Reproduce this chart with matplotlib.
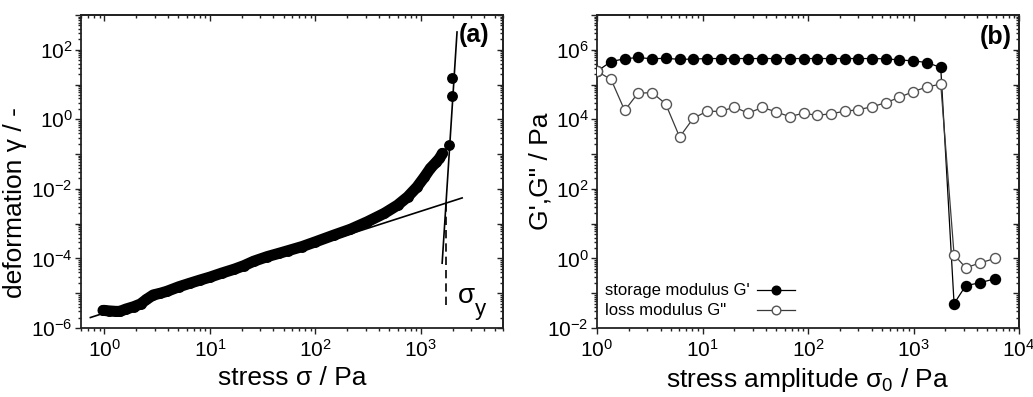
import matplotlib
matplotlib.use('Agg')
import matplotlib.pyplot as plt
from matplotlib.ticker import LogLocator, FuncFormatter, NullFormatter
from matplotlib.lines import Line2D
import numpy as np

plt.rcParams['font.family'] = ['Liberation Sans', 'DejaVu Sans']
plt.rcParams['mathtext.fontset'] = 'custom'
plt.rcParams['mathtext.rm'] = 'Liberation Sans'
plt.rcParams['mathtext.it'] = 'Liberation Sans:italic'
plt.rcParams['mathtext.bf'] = 'Liberation Sans:bold'
plt.rcParams['axes.unicode_minus'] = False

# ---------------- data: panel (a) creep / stress ramp ----------------
creep_stress = [0.97, 1.0, 1.1, 1.28, 1.4, 1.6, 1.9, 2.2, 2.5, 2.9, 3.4, 3.9,
                5.1, 6.5, 8.1, 10, 13, 17, 21, 26, 35, 45, 55, 75, 100, 150,
                215, 310, 450, 600, 750, 920, 1080, 1230, 1390, 1500, 1600]
creep_strain = [3.2e-6, 3.2e-6, 3.1e-6, 3.0e-6, 3.0e-6, 3.5e-6, 4.1e-6, 4.9e-6,
                6.6e-6, 8.9e-6, 1.0e-5, 1.13e-5, 1.54e-5, 1.95e-5, 2.4e-5, 2.9e-5,
                3.8e-5, 4.9e-5, 6.2e-5, 8.3e-5, 1.13e-4, 1.4e-4, 1.67e-4, 2.2e-4,
                3.0e-4, 4.7e-4, 6.9e-4, 1.13e-3, 1.98e-3, 3.4e-3, 5.9e-3, 1.14e-2,
                2.2e-2, 3.9e-2, 5.8e-2, 7.5e-2, 0.105]
flow_stress = [1860, 1977, 1990]
flow_strain = [0.18, 4.6, 15]

fit_low_stress = [0.736, 2460]
fit_low_strain = [2.0e-6, 5.5e-3]
fit_high_stress = [1590, 2200]
fit_high_strain = [7.3e-5, 325]
yield_stress = 1734
yield_line_strain = [4.6e-6, 3.8e-3]

# ---------------- data: panel (b) amplitude sweep ----------------
amp_stress = [1.0, 1.36, 1.83, 2.44, 3.32, 4.47, 6.07, 8.17, 11.0, 14.9, 20.1,
              27.1, 36.8, 49.6, 66.8, 90.7, 122, 165, 222, 301, 405, 546, 736,
              998, 1336, 1812, 2424, 3126, 4270, 5900]
G_storage = [2.4e5, 4.6e5, 5.5e5, 6.0e5, 5.5e5, 5.7e5, 5.3e5, 5.4e5, 5.6e5,
             5.6e5, 5.6e5, 5.6e5, 5.6e5, 5.6e5, 5.6e5, 5.6e5, 5.6e5, 5.6e5,
             5.6e5, 5.6e5, 5.6e5, 5.5e5, 5.1e5, 4.8e5, 4.3e5, 3.1e5,
             0.05, 0.165, 0.20, 0.26]
G_loss = [2.4e5, 1.4e5, 1.8e4, 5.6e4, 5.9e4, 2.8e4, 3.1e3, 1.07e4, 1.7e4, 1.7e4,
          2.25e4, 1.5e4, 2.2e4, 1.65e4, 1.2e4, 1.5e4, 1.3e4, 1.45e4, 1.7e4,
          1.9e4, 2.3e4, 3.0e4, 4.3e4, 6.3e4, 8.5e4, 1.03e5,
          1.28, 0.54, 0.74, 1.0]

legend_labels = ["storage modulus G'", 'loss modulus G"']

W, H = 1033, 397
fig = plt.figure(figsize=(W / 100, H / 100), dpi=100)


def px_axes(x0, x1, y0, y1):
    return fig.add_axes([x0 / W, 1 - y1 / H, (x1 - x0) / W, (y1 - y0) / H])


ax1 = px_axes(81, 503, 15, 328)
ax2 = px_axes(597, 1019, 15, 328)

TICK_FS = 15
LABEL_FS = 19
SPINE_C = '#222222'


def label_fmt(every):
    def f(v, pos):
        e = int(round(np.log10(v)))
        if e % every != 0:
            return ''
        return r'$\mathregular{10^{%d}}$' % e
    return f


def style_axis(ax, ylab_every, xlab_every):
    ax.set_xscale('log')
    ax.set_yscale('log')
    for s in ax.spines.values():
        s.set_linewidth(1.3)
        s.set_color(SPINE_C)
    ax.xaxis.set_major_locator(LogLocator(base=10, numticks=30))
    ax.yaxis.set_major_locator(LogLocator(base=10, numticks=30))
    ax.xaxis.set_minor_locator(LogLocator(base=10, subs=np.arange(2, 10), numticks=30))
    ax.yaxis.set_minor_locator(LogLocator(base=10, subs=np.arange(2, 10), numticks=30))
    ax.xaxis.set_major_formatter(FuncFormatter(label_fmt(xlab_every)))
    ax.yaxis.set_major_formatter(FuncFormatter(label_fmt(ylab_every)))
    ax.xaxis.set_minor_formatter(NullFormatter())
    ax.yaxis.set_minor_formatter(NullFormatter())
    ax.tick_params(which='both', direction='out', color=SPINE_C, width=1.0,
                   labelsize=TICK_FS, top=False, right=False)
    ax.tick_params(which='major', length=4.0, pad=2)
    ax.tick_params(which='minor', length=2.2)
    ax.tick_params(axis='x', which='major', pad=4)
    # mirrored ticks pointing inward
    sx = ax.secondary_xaxis('top')
    sy = ax.secondary_yaxis('right')
    for sec, axis in ((sx, sx.xaxis), (sy, sy.yaxis)):
        axis.set_major_locator(LogLocator(base=10, numticks=30))
        axis.set_minor_locator(LogLocator(base=10, subs=np.arange(2, 10), numticks=30))
        axis.set_major_formatter(NullFormatter())
        axis.set_minor_formatter(NullFormatter())
        sec.tick_params(which='both', direction='in', color=SPINE_C, width=1.0)
        sec.tick_params(which='major', length=4.0)
        sec.tick_params(which='minor', length=2.2)
        for s in sec.spines.values():
            s.set_linewidth(1.3)
            s.set_color(SPINE_C)


# ---------------- panel (a) ----------------
ax1.set_xlim(0.6, 6000)
ax1.set_ylim(1e-6, 1e3)
ax1.plot(fit_low_stress, fit_low_strain, color='black', lw=1.2, zorder=2)
ax1.plot(creep_stress, creep_strain, color='black', lw=8.0, solid_capstyle='round',
         solid_joinstyle='round', zorder=3)
ax1.plot(creep_stress, creep_strain, 'o', color='black', ms=6.8, zorder=3)
ax1.plot(flow_stress, flow_strain, 'o', color='black', ms=6.8, zorder=3)
ax1.plot(fit_high_stress, fit_high_strain, color='black', lw=1.2, zorder=4)
ax1.plot([yield_stress, yield_stress], yield_line_strain, color='black', lw=1.2,
         linestyle=(0, (5, 3)), zorder=2)
style_axis(ax1, 2, 1)
ax1.set_xlabel('stress σ / Pa', fontsize=LABEL_FS)
ax1.set_ylabel('deformation γ / -', fontsize=LABEL_FS)
ax1.xaxis.set_label_coords(0.5, -0.122)
ax1.yaxis.set_label_coords(-0.128, 0.40)
ax1.text(0.931, 0.936, '(a)', transform=ax1.transAxes, fontsize=18,
         fontweight='bold', ha='center', va='center')
ax1.text(0.893, 0.080, 'σ', transform=ax1.transAxes,
         fontsize=20, ha='left', va='baseline')
ax1.text(0.933, 0.040, 'y', transform=ax1.transAxes,
         fontsize=16, ha='left', va='baseline')

# ---------------- panel (b) ----------------
ax2.set_xlim(1, 1e4)
ax2.set_ylim(1e-2, 1e7)
ax2.plot(amp_stress, G_storage, '-o', color='black', lw=0.9, ms=7.2,
         markerfacecolor='black', markeredgecolor='black', zorder=3)
ax2.plot(amp_stress, G_loss, '-o', color='#3a3a3a', lw=0.9, ms=7.2,
         markerfacecolor='white', markeredgecolor='#555555', markeredgewidth=1.0,
         zorder=4)
style_axis(ax2, 2, 1)
ax2.set_xlabel(r'stress amplitude σ$_{\mathregular{0}}$ / Pa', fontsize=LABEL_FS)
ax2.set_ylabel('G\',G" / Pa', fontsize=LABEL_FS)
ax2.xaxis.set_label_coords(0.5, -0.122)
ax2.yaxis.set_label_coords(-0.105, 0.5)
ax2.text(0.945, 0.93, '(b)', transform=ax2.transAxes, fontsize=18,
         fontweight='bold', ha='center', va='center')

# legend: text on the left, line+marker sample on the right
leg_rows = [0.121, 0.0575]
leg_styles = [dict(color='black', markerfacecolor='black', markeredgecolor='black'),
              dict(color='#3a3a3a', markerfacecolor='white', markeredgecolor='#555555')]
for lab, yy, st in zip(legend_labels, leg_rows, leg_styles):
    ax2.text(0.019, yy, lab, transform=ax2.transAxes, fontsize=12,
             ha='left', va='center')
    ax2.add_line(Line2D([0.378, 0.470], [yy, yy], transform=ax2.transAxes,
                        lw=0.9, color=st['color'], zorder=5))
    ax2.add_line(Line2D([0.424], [yy], transform=ax2.transAxes, marker='o',
                        ms=6.2, markeredgewidth=1.0, linestyle='none',
                        markerfacecolor=st['markerfacecolor'],
                        markeredgecolor=st['markeredgecolor'], zorder=6))

fig.savefig('out.png', dpi=100)
